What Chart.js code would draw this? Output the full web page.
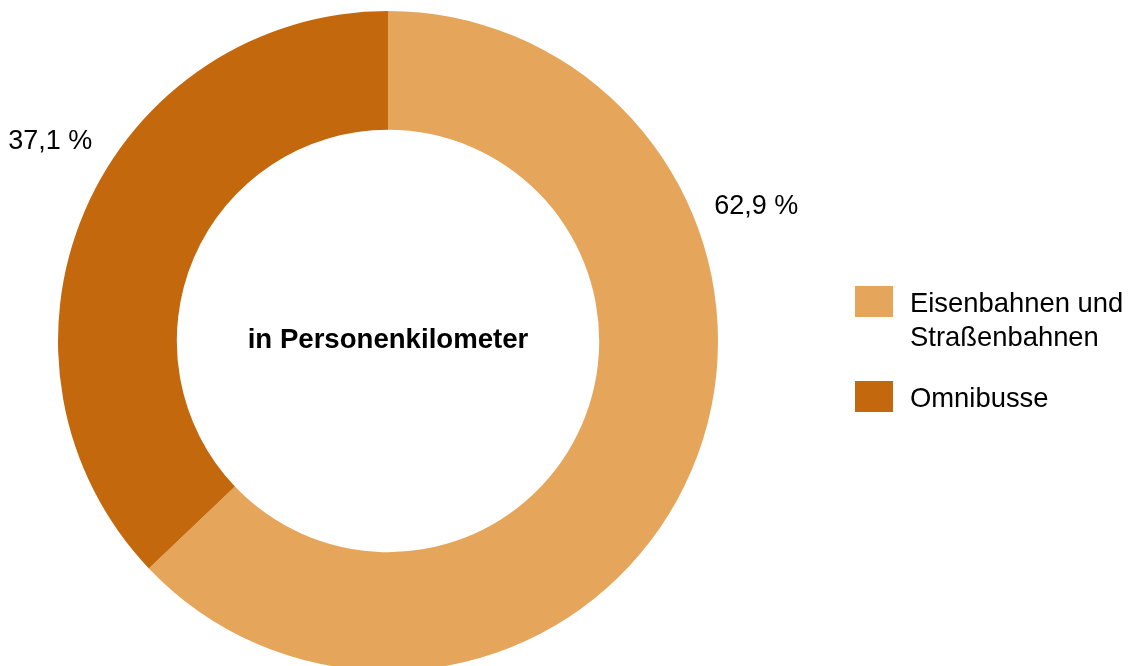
<!DOCTYPE html>
<html>
<head>
<meta charset="utf-8">
<script src="https://cdn.jsdelivr.net/npm/chart.js@4/dist/chart.umd.min.js"></script>
<style>
  html, body { margin: 0; padding: 0; background: #fff; overflow: hidden; }
  #wrap { position: relative; width: 1131px; height: 680px; }
</style>
</head>
<body>
<div id="wrap"><canvas id="chart" width="1131" height="680"></canvas></div>
<script>
// DATA
const categories = [["Eisenbahnen und", "Straßenbahnen"], ["Omnibusse"]]
const shares = [62.9, 37.1]
const shareLabels = ["62,9 %", "37,1 %"]
const colors = ["#E5A65C", "#C4680E"]
const centerText = "in Personenkilometer"

// label placement: angle from top (clockwise, degrees), distance as factor of outer radius
const labelAngles = [69.7, 300.7]
const labelDist = 1.19

const FONT = "'Liberation Sans', Arial, sans-serif"

const textPlugin = {
    id: "texts",
    afterDraw(chart) {
        const ctx = chart.ctx
        const arc = chart.getDatasetMeta(0).data[0]
        const cx = arc.x, cy = arc.y, r = arc.outerRadius

        ctx.save()
        ctx.fillStyle = "#000"

        // center title
        ctx.font = "bold 27.6px " + FONT
        ctx.textAlign = "center"
        ctx.textBaseline = "middle"
        ctx.fillText(centerText, cx, cy - 1)

        // percent labels
        ctx.font = "27px " + FONT
        shareLabels.forEach((t, i) => {
            const a = labelAngles[i] * Math.PI / 180
            const x = cx + Math.sin(a) * r * labelDist
            const y = cy - Math.cos(a) * r * labelDist
            ctx.fillText(t, x, y + 1.5)
        })

        // legend
        ctx.font = "27.4px " + FONT
        ctx.textAlign = "left"
        ctx.textBaseline = "alphabetic"
        let y = 286
        categories.forEach((lines, i) => {
            ctx.fillStyle = colors[i]
            ctx.fillRect(855, y, 38, 31)
            ctx.fillStyle = "#000"
            lines.forEach((ln, j) => {
                ctx.fillText(ln, 910, y + 26 + j * 34)
            })
            y += 95
        })
        ctx.restore()
    }
}

new Chart(document.getElementById("chart"), {
    type: "doughnut",
    data: {
        labels: categories.map(c => c.join(" ")),
        datasets: [{
            data: shares,
            backgroundColor: colors,
            borderWidth: 0,
        }]
    },
    options: {
        responsive: false,
        animation: false,
        cutout: "64%",
        layout: { padding: { left: 58, top: 11, right: 413, bottom: 9 } },
        plugins: {
            legend: { display: false },
            tooltip: { enabled: false }
        }
    },
    plugins: [textPlugin]
})
</script>
</body>
</html>
